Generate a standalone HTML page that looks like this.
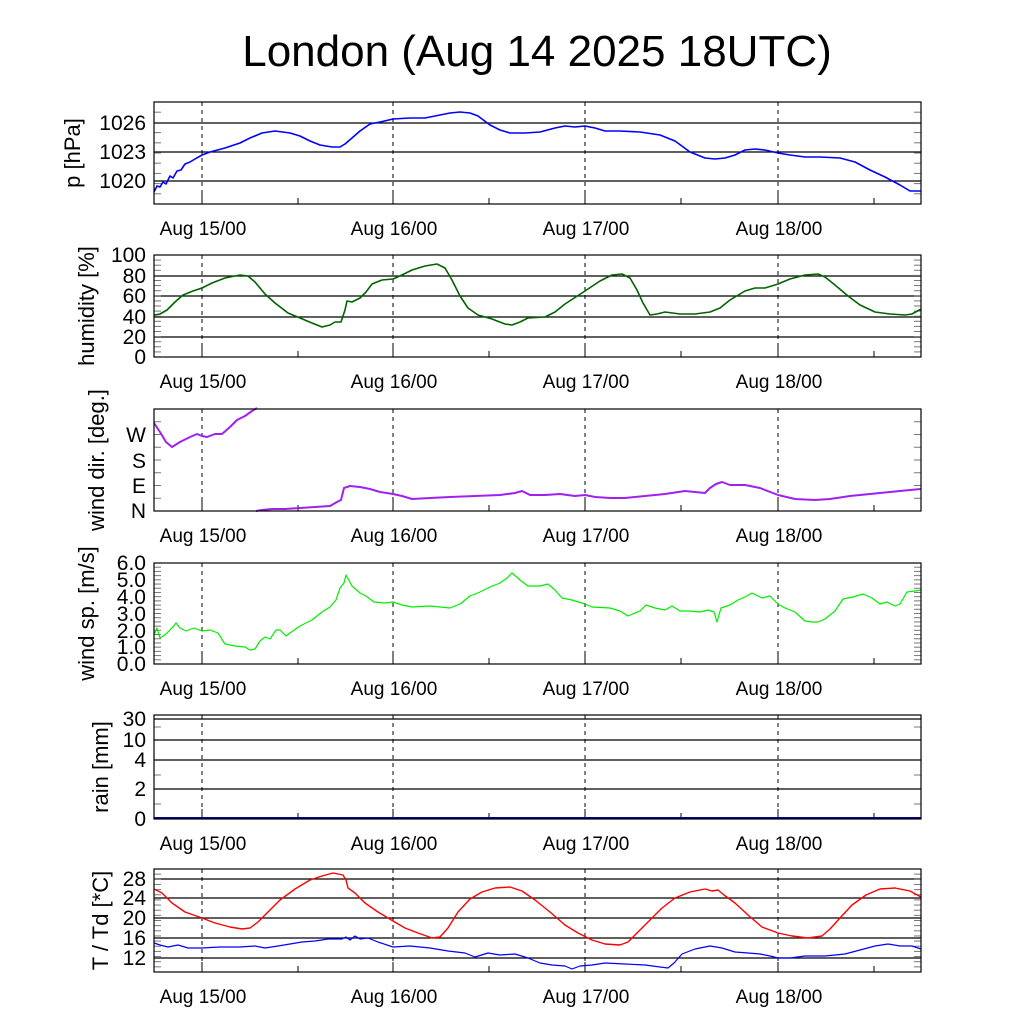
<!DOCTYPE html><html><head><style>body{margin:0;background:#fff}svg{display:block}text{font-family:"Liberation Sans",sans-serif}</style></head><body>
<svg id="s" width="1024" height="1024" xmlns="http://www.w3.org/2000/svg">
<text x="537" y="66" font-size="44" text-anchor="middle">London (Aug 14 2025 18UTC)</text>
</svg>
<script>
const S=document.getElementById('s');let h='';
const X0=154,X1=921,days=[202,393,585,778],noon=[298,489,681,874];
function panel(t,b,lab,ticks,grid,minor,series){
 grid.forEach(y=>h+=`<line x1="${X0}" x2="${X1}" y1="${y}" y2="${y}" stroke="#000" stroke-width="1.2"/>`);
 days.forEach(x=>h+=`<line x1="${x}" x2="${x}" y1="${t}" y2="${b}" stroke="#000" stroke-dasharray="4,4"/><line x1="${x}" x2="${x}" y1="${b-10}" y2="${b}" stroke="#000"/>`);
 noon.forEach(x=>h+=`<line x1="${x}" x2="${x}" y1="${b-6}" y2="${b}" stroke="#000"/>`);
 minor.forEach(y=>h+=`<line x1="${X0}" x2="${X0+7}" y1="${y}" y2="${y}" stroke="#777"/><line x1="${X1-7}" x2="${X1}" y1="${y}" y2="${y}" stroke="#777"/>`);
 ticks.forEach(([y,s])=>h+=`<text x="146" y="${y+7}" font-size="21" text-anchor="end">${s}</text>`);
 h+=`<text transform="translate(${lab[1]},${(t+b)/2}) rotate(-90)" font-size="22" text-anchor="middle">${lab[0]}</text>`;
 series.forEach(([c,w,p])=>h+=`<polyline fill="none" stroke="${c}" stroke-width="${w}" stroke-linejoin="round" points="${p}"/>`);
 h+=`<rect x="${X0}" y="${t}" width="${X1-X0}" height="${b-t}" fill="none" stroke="#000" stroke-width="1.2"/>`;
 days.forEach((x,i)=>h+=`<text x="${x+1}" y="${b+31}" font-size="19" text-anchor="middle">Aug ${15+i}/00</text>`);
}
function rng(a,b,n){let r=[];for(let i=0;i<=n;i++)r.push(a+(b-a)*i/n);return r;}
panel(102,204,['p [hPa]',80],[[123,'1026'],[152,'1023'],[181,'1020']],[123,152,181],rng(102,204,10),
[['#0000ff',1.6,'154,192 157,186 160,187 163,182 166,184 170,176 173,178 177,171 181,170 185,164 190,162 195,159 202,155 210,152 225,148 240,143 250,138 262,133 275,131 290,133 300,136 310,141 320,145 332,147 340,147 345,144 352,138 360,131 370,124 380,122 393,119 410,118 425,118 440,115 450,113 460,112 470,113 478,116 490,125 500,130 510,133 525,133 540,132 555,128 565,126 575,127 585,126 595,128 605,131 620,131 640,132 660,135 675,141 690,152 705,158 715,159 725,158 735,155 745,150 755,149 765,150 778,153 790,155 805,157 820,157 840,158 855,162 870,170 885,177 900,185 910,191 921,191']]);
panel(255,357,['humidity [%]',94],[[255,'100'],[276,'80'],[296,'60'],[317,'40'],[337,'20'],[357,'0']],[276,296,317,337],rng(255,357,20),
[['#006400',1.6,'154,315 160,314 167,310 175,302 183,295 193,291 202,288 212,283 225,278 240,275 248,276 255,282 265,294 275,303 288,313 300,318 312,323 322,327 330,325 335,322 341,322 345,310 347,301 352,302 360,298 366,292 372,284 382,280 393,279 402,275 412,270 425,266 437,264 445,268 452,280 460,296 468,308 478,315 492,319 505,324 512,325 520,322 528,318 545,317 555,312 565,304 585,291 600,281 612,275 622,274 630,278 637,290 643,303 650,315 657,314 665,312 680,314 695,314 710,312 720,308 730,300 745,291 755,288 765,288 778,284 790,279 805,275 818,274 825,277 835,285 848,296 860,305 875,312 890,314 905,315 912,314 921,309']]);
panel(409,511,['wind dir. [deg.]',104],[[435,'W'],[461,'S'],[486,'E'],[511,'N']],[],rng(409,511,8),
[['#a020f0',2,'154,423 160,432 166,442 172,447 180,442 190,437 197,434 202,436 207,437 215,434 222,434 230,427 237,420 245,416 252,411 257,408'],
 ['#a020f0',2,'256,511 262,510 272,509 285,509 300,508 315,507 330,506 337,502 341,500 344,488 350,486 360,487 370,489 380,492 393,494 402,496 412,499 430,498 450,497 475,496 500,495 515,493 522,491 530,495 545,495 560,494 575,496 585,495 595,497 610,498 625,498 645,496 665,494 685,491 705,493 710,488 716,484 722,482 730,485 745,485 760,488 778,495 795,499 815,500 830,499 850,496 870,494 890,492 910,490 921,489']]);
panel(563,664,['wind sp. [m/s]',94],[[563,'6.0'],[580,'5.0'],[597,'4.0'],[614,'3.0'],[631,'2.0'],[647,'1.0'],[664,'0.0']],[],rng(563,664,24),
[['#00ee00',1.2,'154,635 157,628 160,638 166,634 172,628 176,623 180,628 186,631 194,628 202,631 210,630 218,633 225,644 235,646 245,647 250,650 255,649 260,641 265,637 270,639 276,630 280,630 286,636 290,633 300,626 312,620 322,612 330,607 336,600 340,588 344,583 346,575 352,586 360,593 366,596 374,602 385,603 393,602 402,605 412,607 430,606 450,608 460,604 470,596 480,592 490,587 500,583 507,578 512,573 520,580 528,586 540,586 548,584 555,590 562,598 572,600 585,604 592,607 610,608 620,611 628,616 640,611 646,605 655,608 665,610 672,606 680,611 690,611 700,612 708,610 714,612 717,622 721,608 730,605 738,600 745,597 752,593 762,598 770,596 778,604 785,608 795,612 805,621 812,622 818,622 825,619 835,611 843,599 853,597 863,594 872,598 880,604 887,602 895,606 900,604 907,592 915,591 921,590']]);
panel(715,819,['rain [mm]',108],[[719,'30'],[740,'10'],[760,'4'],[789,'2'],[819,'0']],[719,740,760,789],[727,775,804],
[['#00008b',2,'154,818 921,818']]);
panel(869,972,['T / Td [*C]',108],[[879,'28'],[898,'24'],[918,'20'],[938,'16'],[958,'12']],[879,898,918,938,958],rng(869,972,20),
[['#ff0000',1.4,'154,889 162,893 172,903 185,912 202,918 215,923 230,927 242,929 250,928 258,922 268,912 280,900 295,889 310,880 322,876 333,873 343,875 346,880 348,888 355,893 365,903 378,912 393,921 405,928 418,933 432,938 440,937 448,928 458,912 470,899 482,892 495,888 510,887 522,891 535,900 550,912 565,925 578,933 592,940 605,944 620,945 628,942 638,932 650,920 662,908 675,898 690,892 705,889 712,891 718,890 724,895 735,903 748,915 762,927 778,933 792,936 808,938 822,936 830,929 840,918 852,905 866,895 880,889 895,888 910,891 921,897'],
 ['#0000ff',1.2,'154,943 160,945 168,947 178,945 188,948 202,948 220,947 240,947 255,946 265,948 278,946 290,944 302,942 315,941 328,939 342,939 346,937 350,940 355,936 360,939 368,938 378,942 393,947 410,946 430,948 448,951 465,953 475,957 488,953 500,955 515,954 528,958 540,963 552,965 565,966 572,969 580,966 592,965 605,963 625,964 645,965 660,967 668,968 674,963 682,954 695,949 710,946 722,948 735,952 748,953 760,954 770,956 778,958 790,958 805,956 825,956 845,954 860,950 875,946 888,944 900,946 912,946 921,949']]);
S.insertAdjacentHTML('beforeend',h);
</script></body></html>
